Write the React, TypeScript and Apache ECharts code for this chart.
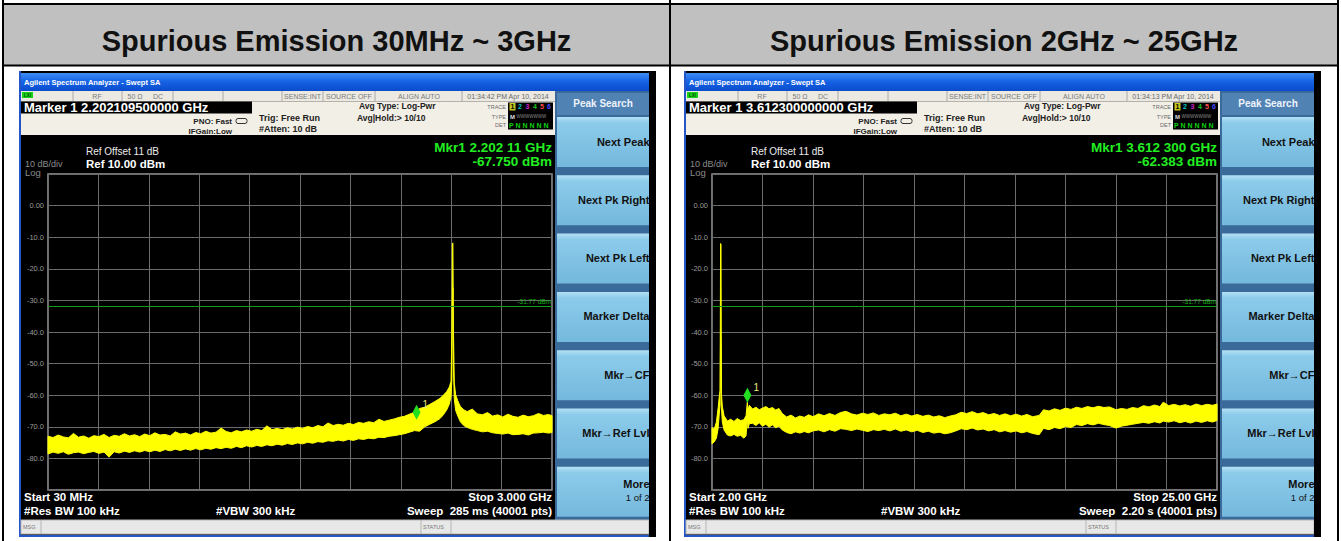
import React, { useEffect, useRef } from 'react';
import * as echarts from 'echarts';

const FONT = '"Liberation Sans", Arial, Helvetica, sans-serif';

const panelTitles = ['Spurious Emission 30MHz ~ 3GHz', 'Spurious Emission 2GHz ~ 25GHz'];

const yMin = -90;
const yMax = 10;
const yStep = 10;

const leftSpanMHz = [30, 3000];
const rightSpanGHz = [2, 25];

// [frequency (MHz), upper edge dBm, lower edge dBm]
const leftTrace: number[][] = [
  [30, -73.0, -78.6], [60, -73.4, -78.0], [90, -72.6, -78.4], [120, -73.2, -77.9], [150, -73.5, -78.7],
  [180, -72.1, -78.2], [210, -73.3, -78.0], [240, -72.9, -78.5], [270, -73.6, -78.1], [300, -72.8, -77.8],
  [330, -73.1, -78.4], [360, -72.4, -78.0], [390, -73.4, -79.6], [420, -72.7, -77.9], [450, -73.0, -78.3],
  [480, -72.2, -77.7], [510, -72.9, -78.1], [540, -72.5, -77.6], [570, -73.1, -78.0], [600, -72.3, -77.5],
  [630, -72.8, -77.9], [660, -71.9, -77.4], [690, -72.6, -77.8], [720, -72.4, -77.2], [750, -72.9, -77.6],
  [780, -71.6, -77.1], [810, -72.3, -77.5], [840, -72.0, -77.0], [870, -72.6, -77.4], [900, -71.8, -76.9],
  [930, -72.2, -77.3], [960, -71.4, -76.8], [990, -72.0, -77.1], [1020, -71.7, -76.6], [1050, -70.4, -76.9],
  [1080, -71.5, -76.5], [1110, -71.9, -76.8], [1140, -71.2, -76.2], [1170, -71.6, -76.6], [1200, -71.0, -76.0],
  [1230, -71.4, -76.4], [1260, -70.8, -75.9], [1290, -71.2, -76.2], [1320, -69.7, -75.7], [1350, -70.9, -76.0],
  [1380, -70.5, -75.5], [1410, -70.9, -75.8], [1440, -70.3, -75.3], [1470, -70.7, -75.6], [1500, -70.1, -75.1],
  [1530, -70.5, -75.4], [1560, -69.9, -74.9], [1590, -70.3, -75.2], [1620, -69.6, -74.7], [1650, -70.0, -74.9],
  [1680, -68.8, -74.4], [1710, -69.6, -74.6], [1740, -69.2, -74.2], [1770, -69.5, -74.5], [1800, -68.9, -74.0],
  [1830, -69.3, -74.3], [1860, -68.6, -73.8], [1890, -68.9, -74.0], [1920, -68.4, -73.6], [1950, -68.7, -73.8],
  [1980, -67.6, -73.3], [2010, -68.3, -73.4], [2040, -67.9, -73.0], [2070, -67.5, -72.8], [2100, -67.0, -72.5],
  [2130, -66.7, -72.2], [2160, -66.0, -71.7], [2190, -65.4, -71.2], [2220, -64.2, -71.4], [2250, -63.8, -70.0],
  [2280, -62.9, -69.2], [2310, -62.0, -68.4], [2340, -61.0, -67.4], [2360, -60.0, -66.2], [2380, -58.8, -64.6],
  [2395, -57.4, -62.8], [2405, -55.6, -60.5], [2410, -40.0, -55.0], [2413, -12.0, -30.0], [2416, -11.8, -26.0],
  [2419, -38.0, -50.0], [2424, -56.0, -61.0], [2432, -59.8, -64.8], [2445, -61.8, -66.6], [2460, -63.6, -68.4],
  [2480, -64.6, -69.6], [2500, -65.2, -70.2], [2530, -64.4, -70.8], [2560, -65.9, -71.2], [2590, -66.2, -71.6],
  [2620, -65.5, -71.4], [2650, -66.6, -71.9], [2680, -66.2, -72.1], [2710, -66.9, -72.3], [2740, -66.0, -72.0],
  [2770, -66.7, -72.5], [2800, -67.0, -72.4], [2830, -66.3, -72.2], [2860, -66.8, -72.6], [2890, -66.5, -72.0],
  [2920, -65.8, -71.9], [2950, -66.4, -71.7], [2980, -66.1, -72.0], [3000, -66.5, -71.8],
];

// [frequency (GHz), upper edge dBm, lower edge dBm]
const rightTrace: number[][] = [
  [2.0, -70.2, -75.4], [2.1, -70.8, -74.8], [2.2, -68.5, -73.6], [2.28, -64.0, -70.5], [2.33, -60.5, -66.0],
  [2.37, -58.5, -63.0], [2.39, -12.0, -40.0], [2.41, -12.3, -45.0], [2.43, -59.5, -64.0], [2.47, -63.5, -68.5],
  [2.55, -66.5, -71.0], [2.7, -68.2, -72.6], [2.85, -67.6, -72.9], [3.0, -68.3, -72.4], [3.15, -67.4, -73.0],
  [3.3, -68.0, -72.7], [3.45, -67.8, -73.6], [3.55, -66.5, -72.8], [3.61, -62.2, -67.5], [3.64, -64.8, -70.5],
  [3.7, -63.2, -69.0], [3.85, -64.4, -68.9], [4.0, -63.8, -69.6], [4.15, -64.6, -68.7], [4.3, -64.1, -69.8],
  [4.45, -63.6, -69.2], [4.6, -64.3, -70.1], [4.75, -63.9, -69.4], [4.9, -64.7, -70.3], [5.05, -64.2, -69.8],
  [5.2, -65.8, -71.0], [5.4, -66.9, -71.8], [5.6, -66.3, -72.2], [5.8, -67.2, -71.6], [6.0, -66.6, -72.0],
  [6.2, -67.0, -71.5], [6.4, -66.2, -71.9], [6.6, -66.8, -71.3], [6.85, -65.9, -71.0], [7.1, -66.5, -71.6],
  [7.35, -65.8, -70.9], [7.6, -66.4, -71.4], [7.85, -65.5, -70.6], [8.1, -65.1, -70.8], [8.35, -65.9, -71.2],
  [8.6, -66.3, -70.7], [8.85, -65.7, -71.1], [9.1, -66.1, -71.5], [9.35, -65.6, -70.9], [9.6, -66.4, -71.2],
  [9.85, -65.9, -70.8], [10.1, -66.2, -71.3], [10.35, -65.7, -70.7], [10.6, -66.5, -71.4], [10.85, -66.0, -71.0],
  [11.1, -66.6, -71.6], [11.35, -66.1, -71.1], [11.6, -66.7, -71.8], [11.85, -66.3, -71.4], [12.1, -66.9, -72.0],
  [12.35, -66.5, -71.7], [12.6, -67.1, -72.2], [12.85, -66.6, -71.9], [13.1, -66.2, -71.3], [13.35, -65.4, -70.6],
  [13.6, -65.8, -70.9], [13.85, -65.2, -70.4], [14.1, -65.9, -71.0], [14.35, -65.5, -70.7], [14.6, -66.2, -71.3],
  [14.85, -65.8, -70.9], [15.1, -66.4, -71.6], [15.35, -65.9, -71.2], [15.6, -66.5, -71.7], [15.85, -66.0, -71.3],
  [16.1, -66.6, -71.9], [16.35, -66.1, -71.5], [16.6, -66.8, -72.1], [16.9, -66.4, -72.5], [17.1, -64.6, -70.5],
  [17.35, -65.0, -70.9], [17.6, -64.3, -70.2], [17.85, -64.8, -70.6], [18.1, -64.1, -69.9], [18.35, -64.5, -70.2],
  [18.6, -63.8, -69.3], [18.85, -64.2, -69.6], [19.1, -63.6, -69.0], [19.35, -64.0, -69.4], [19.6, -63.5, -68.9],
  [19.85, -63.9, -69.3], [20.1, -63.7, -69.6], [20.4, -64.6, -70.4], [20.65, -64.2, -69.8], [20.9, -64.5, -69.5],
  [21.15, -63.9, -69.2], [21.4, -64.2, -68.9], [21.65, -63.3, -68.6], [21.9, -63.7, -68.9], [22.15, -63.1, -68.4],
  [22.4, -63.6, -68.8], [22.55, -62.2, -68.2], [22.8, -63.3, -68.5], [23.05, -62.9, -68.1], [23.3, -63.4, -68.7],
  [23.55, -63.0, -68.3], [23.8, -63.5, -68.8], [24.05, -62.8, -68.2], [24.3, -63.3, -68.6], [24.55, -62.9, -68.1],
  [24.8, -63.2, -68.5], [25.0, -62.8, -68.0],
];

const leftMarker = [2202.11, -67.75];
const rightMarker = [3.6123, -62.383];
const displayLineDbm = -31.77;
const displayLineLabel = '-31.77 dBm';

const leftTexts = {
  marker: 'Marker 1 2.202109500000 GHz',
  time: '01:34:42 PM Apr 10, 2014',
  mkr: 'Mkr1 2.202 11 GHz',
  amp: '-67.750 dBm',
  start: 'Start 30 MHz',
  stop: 'Stop 3.000 GHz',
  sweep: 'Sweep  285 ms (40001 pts)',
};
const rightTexts = {
  marker: 'Marker 1 3.612300000000 GHz',
  time: '01:34:13 PM Apr 10, 2014',
  mkr: 'Mkr1 3.612 300 GHz',
  amp: '-62.383 dBm',
  start: 'Start 2.00 GHz',
  stop: 'Stop 25.00 GHz',
  sweep: 'Sweep  2.20 s (40001 pts)',
};
const softkeys = ['Next Peak', 'Next Pk Right', 'Next Pk Left', 'Marker Delta', 'Mkr\u2192CF', 'Mkr\u2192Ref Lvl', 'More'];

const T = (x: number, y: number, text: string, size: number, fill: string, weight = 'normal', align = 'left', z = 10) => ({
  type: 'text', x, y, z, silent: true,
  style: {
    text, fill, font: `${weight} ${size}px ${FONT}`,
    textAlign: align, textVerticalAlign: 'middle', align, verticalAlign: 'middle',
  },
});
const R = (x: number, y: number, w: number, h: number, fill: any, z = -10, stroke?: string, lw = 0, r = 0) => {
  const style: any = { fill };
  if (stroke) { style.stroke = stroke; style.lineWidth = lw; }
  return { type: 'rect', z, silent: true, shape: { x, y, width: w, height: h, r }, style };
};
const L = (x1: number, y1: number, x2: number, y2: number, stroke: string, lw = 1, z = -5) => ({
  type: 'line', z, silent: true, shape: { x1, y1, x2, y2 }, style: { stroke, lineWidth: lw },
});

function panel(dx: number, info: any): any[] {
  const X = (x: number) => x + dx;
  const g: any[] = [];
  const titleGrad = new echarts.graphic.LinearGradient(0, 0, 0, 1, [
    { offset: 0, color: '#3f8df4' }, { offset: 0.5, color: '#1461e4' }, { offset: 1, color: '#0a4ccb' },
  ]);
  const btnGrad = new echarts.graphic.LinearGradient(0, 0, 0, 1, [
    { offset: 0, color: '#b4e1f5' }, { offset: 0.12, color: '#8ccbea' }, { offset: 1, color: '#74b8dd' },
  ]);
  g.push(R(X(19), 71, 631, 466, '#000', -12));
  g.push(R(X(19), 71, 2, 466, '#2456c8', -11));
  g.push(R(X(19), 535, 631, 2, '#2456c8', -11));
  g.push(R(X(21), 73, 628, 18, titleGrad, -10));
  g.push(T(X(24), 82.5, 'Agilent Spectrum Analyzer - Swept SA', 7.5, '#ffffff', 'bold'));
  // status row
  g.push(R(X(21), 91, 534, 10.5, '#ebe9e2', -10));
  [73, 122, 173, 223, 282, 323, 375, 462].forEach((x) => g.push(L(X(x), 91, X(x), 101.5, '#aaaaaa', 1, -5)));
  g.push(R(X(22), 92, 11, 6, '#19d419', -4));
  g.push(T(X(27.5), 95, 'LXI', 4.5, '#064a06', 'bold', 'center'));
  g.push(T(X(97), 96.5, 'RF', 7, '#7a7a7a', 'normal', 'center'));
  g.push(T(X(135), 96.5, '50 \u03A9', 7, '#7a7a7a', 'normal', 'center'));
  g.push(T(X(158), 96.5, 'DC', 7, '#7a7a7a', 'normal', 'center'));
  g.push(T(X(321), 96.5, 'SENSE:INT', 7, '#7a7a7a', 'normal', 'right'));
  g.push(T(X(326), 96.5, 'SOURCE OFF', 7, '#7a7a7a', 'normal', 'left'));
  g.push(T(X(419), 96.5, 'ALIGN AUTO', 7, '#7a7a7a', 'normal', 'center'));
  g.push(T(X(508), 96.5, info.time, 7, '#6a6a6a', 'normal', 'center'));
  // beige header
  g.push(R(X(21), 101.5, 534, 33.5, '#f2efe6', -10));
  g.push(R(X(21), 101.5, 231, 12, '#000', -4));
  g.push(T(X(24), 107.8, info.marker, 13, '#ffffff', 'bold'));
  g.push(T(X(232), 121.5, 'PNO: Fast', 8, '#222', 'bold', 'right'));
  g.push(R(X(236), 118.5, 11, 5, 'none', -3, '#333', 1, 2));
  g.push(T(X(232), 131, 'IFGain:Low', 8, '#222', 'bold', 'right'));
  g.push(T(X(259), 117.5, 'Trig: Free Run', 9, '#222', 'bold'));
  g.push(T(X(259), 129.3, '#Atten: 10 dB', 9, '#222', 'bold'));
  g.push(T(X(359), 106, 'Avg Type: Log-Pwr', 8.5, '#222', 'bold'));
  g.push(T(X(357), 117.5, 'Avg|Hold:> 10/10', 8.5, '#222', 'bold'));
  g.push(R(X(508), 102.5, 45, 27, '#000', -4));
  g.push(T(X(506), 106.5, 'TRACE', 5.5, '#6a6a6a', 'normal', 'right'));
  g.push(T(X(506), 116.5, 'TYPE', 5.5, '#6a6a6a', 'normal', 'right'));
  g.push(T(X(506), 125, 'DET', 5.5, '#6a6a6a', 'normal', 'right'));
  g.push(R(X(509.5), 103, 6, 7.5, '#c8c820', -3));
  g.push(T(X(512.5), 106.8, '1', 7, '#000', 'bold', 'center'));
  const traceCols = ['#00c8c8', '#d020d0', '#20c020', '#ff5050', '#4848ff'];
  [520, 527.5, 535, 542, 549].forEach((x, i) => g.push(T(X(x), 106.8, String(i + 2), 7, traceCols[i], 'bold', 'center')));
  g.push(T(X(512.5), 116.5, 'M', 6, '#dddddd', 'bold', 'center'));
  g.push(T(X(516.5), 116.5, 'WWWWWWW', 4.5, '#8a8a8a', 'normal', 'left'));
  g.push(T(X(509), 125, 'P N N N N N', 7, '#10d010', 'bold', 'left'));
  // display texts
  g.push(T(X(86), 151.5, 'Ref Offset 11 dB', 10, '#ececec'));
  g.push(T(X(86), 164, 'Ref 10.00 dBm', 11.5, '#ffffff', 'bold'));
  g.push(T(X(25), 163.5, '10 dB/div', 9, '#8c8c8c'));
  g.push(T(X(25), 172.5, 'Log', 9.5, '#8c8c8c'));
  g.push(T(X(552), 147, info.mkr, 13.5, '#22ee22', 'bold', 'right'));
  g.push(T(X(552), 161, info.amp, 13.5, '#22ee22', 'bold', 'right'));
  g.push(T(X(24), 497, info.start, 11.5, '#ffffff', 'bold'));
  g.push(T(X(24), 511, '#Res BW 100 kHz', 11.5, '#ffffff', 'bold'));
  g.push(T(X(216), 511, '#VBW 300 kHz', 11.5, '#ffffff', 'bold'));
  g.push(T(X(552), 497, info.stop, 11.5, '#ffffff', 'bold', 'right'));
  g.push(T(X(552), 511, info.sweep, 11.5, '#ffffff', 'bold', 'right'));
  // status bar
  g.push(R(X(21), 520, 628, 14, '#e8e8e8', -4, '#b5b5b5', 1));
  g.push(T(X(23), 527, 'MSG', 5.5, '#777'));
  g.push(L(X(41), 520, X(41), 534, '#b5b5b5', 1, -3));
  g.push(L(X(421), 520, X(421), 534, '#b5b5b5', 1, -3));
  g.push(T(X(423), 527, 'STATUS', 5.5, '#777'));
  g.push(L(X(451), 520, X(451), 534, '#b5b5b5', 1, -3));
  // softkeys
  g.push(R(X(555), 91, 94, 429, '#3a6a9a', -6));
  g.push(R(X(557), 93, 92, 22, '#5082b4', -5));
  g.push(T(X(603), 103.5, 'Peak Search', 10, '#eef3fb', 'bold', 'center'));
  softkeys.forEach((k, i) => {
    const y0 = 117 + i * 58.3;
    g.push(R(X(557), y0, 92, 50, btnGrad, -5));
    if (i < 6) {
      g.push(T(X(649.5), y0 + 24.5, k, 11, '#111', 'bold', 'right'));
    } else {
      g.push(T(X(649.5), y0 + 17, k, 11, '#111', 'bold', 'right'));
      g.push(T(X(649.5), y0 + 31, '1 of 2', 9.5, '#111', 'normal', 'right'));
    }
  });
  g.push(R(X(649), 71, 7, 466, '#000', 20));
  return g;
}

function tableGraphics(): any[] {
  const g: any[] = [];
  g.push(R(0, 0, 1341, 541, '#ffffff', -30));
  g.push(R(4, 5, 665, 60, '#c0c0c0', -20));
  g.push(R(671, 5, 666, 60, '#c0c0c0', -20));
  g.push(L(2, 4, 1339, 4, '#000', 2, -15));
  g.push(L(2, 65.5, 1339, 65.5, '#000', 2, -15));
  g.push(L(3, 0, 3, 541, '#000', 2, -15));
  g.push(L(670, 0, 670, 541, '#000', 2, -15));
  g.push(L(1338, 0, 1338, 541, '#000', 2, -15));
  g.push(T(336.5, 41, panelTitles[0], 29, '#111', 'bold', 'center'));
  g.push(T(1004, 41, panelTitles[1], 29, '#111', 'bold', 'center'));
  return g;
}

const YELLOW = '#ffff00';

// one polygon per trace: upper envelope forward, lower envelope back, all through api.coord
const bandRenderItem = (params: any, api: any) => {
  if (params.dataIndexInside !== 0) return null;
  const n = params.dataInsideLength;
  const up: number[][] = [];
  const lo: number[][] = [];
  for (let i = 0; i < n; i++) {
    const f = api.value(0, i);
    up.push(api.coord([f, api.value(1, i)]));
    lo.push(api.coord([f, api.value(2, i)]));
  }
  return {
    type: 'polygon',
    shape: { points: up.concat(lo.reverse()) },
    style: { fill: YELLOW, stroke: YELLOW, lineWidth: 1 },
  };
};

function bandSeries(trace: number[][], xi: number, yi: number, marker: number[]) {
  return {
    type: 'custom', xAxisIndex: xi, yAxisIndex: yi, silent: true, z: 3,
    data: trace,
    encode: { x: 0, y: [1, 2] },
    renderItem: bandRenderItem,
    markLine: {
      silent: true, symbol: ['none', 'none'],
      lineStyle: { color: '#149c14', width: 1, type: 'solid' },
      label: { show: true, position: 'insideEndTop', formatter: displayLineLabel, color: '#14b414', fontSize: 6.5, distance: 1, fontFamily: FONT },
      data: [{ yAxis: displayLineDbm }],
    },
    markPoint: {
      silent: true, symbol: 'diamond', symbolSize: [8, 15], symbolOffset: [0, '-50%'],
      itemStyle: { color: '#20e020' },
      label: { show: true, formatter: '1', position: [10, -5], color: '#ecec80', fontSize: 10, fontFamily: FONT },
      data: [{ coord: marker }],
    },
  };
}

const yLabelFmt = (v: number) => (v === yMax || v === yMin ? '' : v === 0 ? '0.00' : v.toFixed(1));

const divAxis = (gridIndex: number) => ({
  type: 'value', gridIndex, min: 0, max: 10, interval: 1,
  axisLine: { show: false }, axisTick: { show: false }, axisLabel: { show: false },
  splitLine: { show: true, lineStyle: { color: '#6b6b6b', width: 1 } },
});
const yAxisOf = (gridIndex: number) => ({
  type: 'value', gridIndex, min: yMin, max: yMax, interval: yStep,
  axisLine: { show: false }, axisTick: { show: false },
  axisLabel: { color: '#9a9a9a', fontSize: 7.5, margin: 4, fontFamily: FONT, formatter: yLabelFmt },
  splitLine: { show: true, lineStyle: { color: '#6b6b6b', width: 1 } },
});

export default function App() {
  const ref = useRef<HTMLDivElement>(null);
  useEffect(() => {
    if (!ref.current) return;
    const chart = echarts.init(ref.current, null, { renderer: 'svg' });
    const gridBase = { top: 174, height: 316, show: true, borderColor: '#979797', borderWidth: 1.5, backgroundColor: 'transparent' };
    chart.setOption({
      animation: false,
      grid: [
        { ...gridBase, left: 48, width: 504 },
        { ...gridBase, left: 712, width: 505 },
      ],
      xAxis: [
        { type: 'value', gridIndex: 0, min: leftSpanMHz[0], max: leftSpanMHz[1], show: false },
        divAxis(0),
        { type: 'value', gridIndex: 1, min: rightSpanGHz[0], max: rightSpanGHz[1], show: false },
        divAxis(1),
      ],
      yAxis: [yAxisOf(0), yAxisOf(1)],
      graphic: { elements: [...tableGraphics(), ...panel(0, leftTexts), ...panel(665, rightTexts)] },
      series: [
        bandSeries(leftTrace, 0, 0, leftMarker),
        bandSeries(rightTrace, 2, 1, rightMarker),
      ],
    });
    return () => chart.dispose();
  }, []);
  return <div ref={ref} style={{ position: 'absolute', left: 0, top: 0, width: 1341, height: 541 }} />;
}
